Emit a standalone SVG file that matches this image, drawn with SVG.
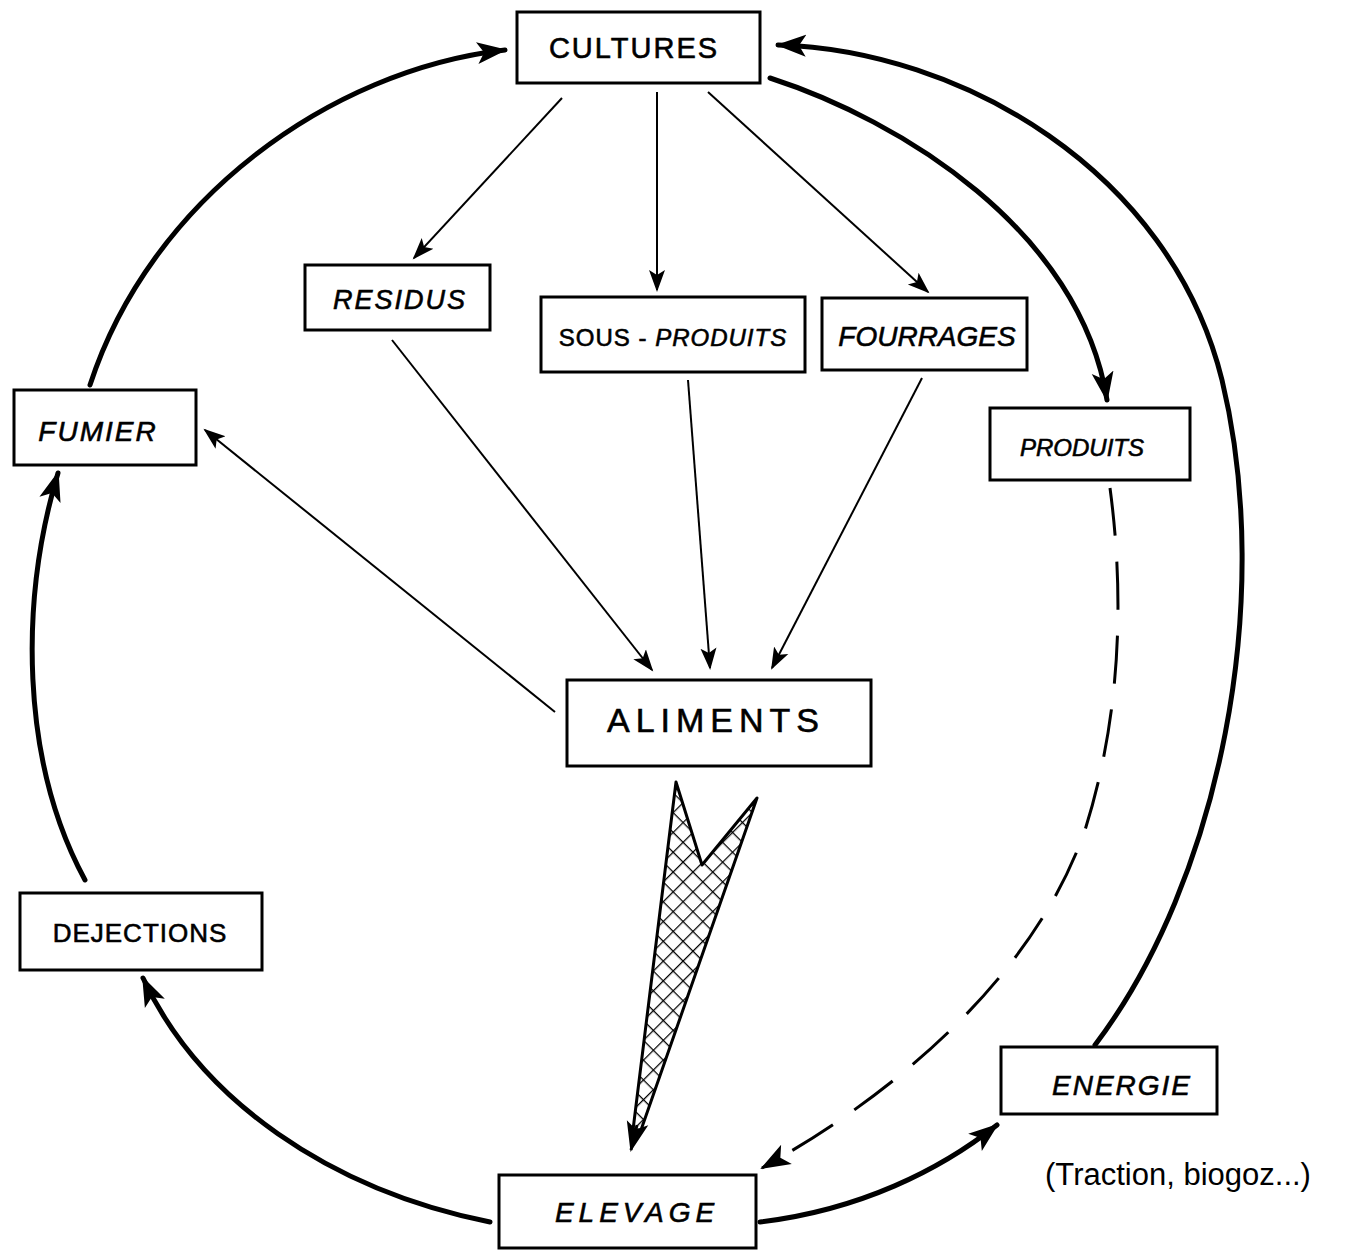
<svg xmlns="http://www.w3.org/2000/svg" width="1352" height="1251" viewBox="0 0 1352 1251">
<style>
.box{fill:#fff;stroke:#000;stroke-width:3}
.lbl{font-family:"Liberation Sans",Arial,sans-serif;font-size:27px;fill:#000;stroke:#000;stroke-width:0.6;letter-spacing:2px;text-anchor:middle}
.it{font-style:italic}
.thin{fill:none;stroke:#000;stroke-width:2}
.thick{fill:none;stroke:#000;stroke-width:5;stroke-linecap:round}
.dash{fill:none;stroke:#000;stroke-width:3;stroke-dasharray:48 26}
</style>
<defs>
<marker id="a" markerUnits="userSpaceOnUse" markerWidth="24" markerHeight="20" refX="20" refY="10" orient="auto">
<path d="M0,2 L22,10 L0,18 L5,10 Z" fill="#000"/>
</marker>
<marker id="b" markerUnits="userSpaceOnUse" markerWidth="32" markerHeight="26" refX="28" refY="13" orient="auto">
<path d="M0,2 L30,13 L0,24 L7,13 Z" fill="#000"/>
</marker>
<pattern id="h" patternUnits="userSpaceOnUse" width="14" height="14" patternTransform="rotate(45)">
<rect width="14" height="14" fill="#fff"/>
<path d="M0,0 H14 M0,0 V14" stroke="#000" stroke-width="2.5"/>
</pattern>
</defs>
<g id="connectors">
<line class="thin" x1="562" y1="98" x2="414" y2="258" marker-end="url(#a)"/>
<line class="thin" x1="657" y1="92" x2="657" y2="290" marker-end="url(#a)"/>
<line class="thin" x1="708" y1="92" x2="928" y2="292" marker-end="url(#a)"/>
<line class="thin" x1="392" y1="340" x2="652" y2="670" marker-end="url(#a)"/>
<line class="thin" x1="688" y1="380" x2="710" y2="668" marker-end="url(#a)"/>
<line class="thin" x1="922" y1="378" x2="772" y2="668" marker-end="url(#a)"/>
<line class="thin" x1="555" y1="712" x2="205" y2="430" marker-end="url(#a)"/>
<path class="thick" d="M770,78 C900,120 1080,230 1107,400" marker-end="url(#b)"/>
<path class="thick" d="M1095,1045 C1220,880 1275,600 1222,380 C1170,170 960,50 778,45" marker-end="url(#b)"/>
<path class="dash" d="M1110,488 C1125,600 1120,720 1085,830 C1040,960 920,1080 762,1168" marker-end="url(#b)"/>
<path class="thick" d="M90,385 C150,200 330,70 505,50" marker-end="url(#b)"/>
<path class="thick" d="M85,880 C20,760 20,600 58,473" marker-end="url(#b)"/>
<path class="thick" d="M490,1222 C330,1190 200,1100 143,978" marker-end="url(#b)"/>
<path class="thick" d="M760,1222 C860,1210 940,1170 997,1125" marker-end="url(#b)"/>
<path d="M676,782 L702,865 L757,798 L641,1130 L633,1130 Z" fill="url(#h)" stroke="#000" stroke-width="3" stroke-linejoin="round"/>
<line x1="637" y1="1125" x2="631" y2="1150" stroke="#000" stroke-width="3" marker-end="url(#b)"/>
</g>
<g id="cultures"><rect class="box" x="517" y="12" width="243" height="71"/><text class="lbl" x="634" y="58" style="font-size:29px">CULTURES</text></g>
<g id="residus"><rect class="box" x="305" y="265" width="185" height="65"/><text class="lbl it" x="400" y="309">RESIDUS</text></g>
<g id="sous-produits"><rect class="box" x="541" y="297" width="264" height="75"/><text class="lbl" x="673" y="346" style="font-size:24px;letter-spacing:1px">SOUS - <tspan class="it">PRODUITS</tspan></text></g>
<g id="fourrages"><rect class="box" x="822" y="298" width="205" height="72"/><text class="lbl it" x="927" y="346" style="letter-spacing:0px;font-size:28px">FOURRAGES</text></g>
<g id="produits"><rect class="box" x="990" y="408" width="200" height="72"/><text class="lbl it" x="1082" y="456" style="font-size:24px;letter-spacing:0px">PRODUITS</text></g>
<g id="fumier"><rect class="box" x="14" y="390" width="182" height="75"/><text class="lbl it" x="98" y="441" style="font-size:28px">FUMIER</text></g>
<g id="aliments"><rect class="box" x="567" y="680" width="304" height="86"/><text class="lbl" x="716" y="732" style="font-size:34px;letter-spacing:6px">ALIMENTS</text></g>
<g id="dejections"><rect class="box" x="20" y="893" width="242" height="77"/><text class="lbl" x="140" y="942" style="font-size:26px;letter-spacing:1px">DEJECTIONS</text></g>
<g id="energie"><rect class="box" x="1001" y="1047" width="216" height="67"/><text class="lbl it" x="1122" y="1095" style="font-size:28px">ENERGIE</text></g>
<g id="elevage"><rect class="box" x="499" y="1175" width="257" height="73"/><text class="lbl it" x="637" y="1222" style="letter-spacing:5px;font-size:28px">ELEVAGE</text></g>
<text x="1178" y="1185" style="font-family:'Liberation Sans',Arial,sans-serif;font-size:31px;text-anchor:middle">(Traction, biogoz...)</text>
</svg>
